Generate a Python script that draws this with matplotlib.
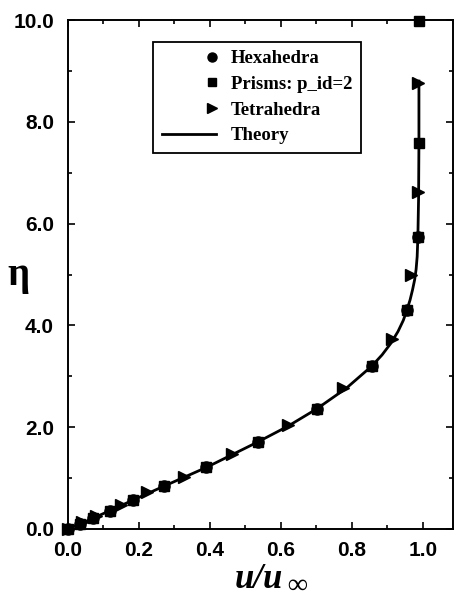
import matplotlib
matplotlib.use("Agg")
import matplotlib.pyplot as plt
from matplotlib.lines import Line2D
from matplotlib.legend_handler import HandlerLine2D
from matplotlib.ticker import MultipleLocator, FormatStrFormatter

# ---- data ----
hex_u   = [0.0, 0.034, 0.070, 0.118, 0.184, 0.270, 0.390, 0.535, 0.701, 0.856, 0.955, 0.985]
hex_eta = [0.0, 0.10, 0.21, 0.36, 0.57, 0.84, 1.21, 1.71, 2.36, 3.20, 4.30, 5.73]

prism_u   = [0.0, 0.034, 0.070, 0.118, 0.184, 0.270, 0.390, 0.535, 0.701, 0.856, 0.955, 0.985, 0.988, 0.989]
prism_eta = [0.0, 0.10, 0.21, 0.36, 0.57, 0.84, 1.21, 1.71, 2.36, 3.20, 4.30, 5.73, 7.58, 9.98]

tet_u   = [0.0, 0.040, 0.080, 0.150, 0.224, 0.326, 0.462, 0.620, 0.775, 0.913, 0.968, 0.985, 0.986]
tet_eta = [0.0, 0.13, 0.26, 0.47, 0.72, 1.02, 1.47, 2.04, 2.77, 3.73, 4.99, 6.62, 8.76]

theory_u   = [0.0, 0.034, 0.070, 0.118, 0.184, 0.270, 0.390, 0.535, 0.620, 0.701, 0.785,
              0.856, 0.885, 0.910, 0.930, 0.945, 0.955, 0.964, 0.971, 0.977, 0.981,
              0.984, 0.986, 0.988, 0.989, 0.989]
theory_eta = [0.0, 0.10, 0.21, 0.36, 0.57, 0.84, 1.21, 1.71, 2.02, 2.36, 2.77,
              3.20, 3.42, 3.65, 3.88, 4.10, 4.30, 4.50, 4.70, 4.90, 5.10,
              5.35, 5.73, 6.50, 7.60, 8.80]

labels = ["Hexahedra", "Prisms: p_id=2", "Tetrahedra", "Theory"]
xticks = [0.0, 0.2, 0.4, 0.6, 0.8, 1.0]
yticks = [0.0, 2.0, 4.0, 6.0, 8.0, 10.0]


class RightMarker(HandlerLine2D):
    def create_artists(self, legend, orig_handle, xdescent, ydescent,
                       width, height, fontsize, trans):
        x = -xdescent + width - 0.2 * fontsize
        y = (height - ydescent) / 2
        line = Line2D([x], [y])
        self.update_prop(line, orig_handle, legend)
        line.set_transform(trans)
        return [line]


fig = plt.figure(figsize=(4.56, 6.01), dpi=100)
ax = fig.add_axes([68/456, 72/601, (453-68)/456, (529-20)/601])

ax.plot(theory_u, theory_eta, color="black", lw=2.0, zorder=2)
ax.plot(prism_u, prism_eta, ls="none", marker="s", ms=7.5, color="black", clip_on=False, zorder=3)
ax.plot(hex_u, hex_eta, ls="none", marker="o", ms=8, color="black", clip_on=False, zorder=4)
ax.plot(tet_u, tet_eta, ls="none", marker=">", ms=8, color="black", clip_on=False, zorder=4)

ax.set_xlim(0, 1.085)
ax.set_ylim(0, 10.0)
ax.set_xticks(xticks)
ax.set_yticks(yticks)
ax.xaxis.set_minor_locator(MultipleLocator(0.1))
ax.yaxis.set_minor_locator(MultipleLocator(1.0))
ax.xaxis.set_major_formatter(FormatStrFormatter("%.1f"))
ax.yaxis.set_major_formatter(FormatStrFormatter("%.1f"))
ax.tick_params(which="both", direction="in", top=True, right=True, width=1.2)
ax.tick_params(which="major", length=5)
ax.tick_params(which="minor", length=3)
ax.tick_params(axis="x", which="major", pad=9)
ax.tick_params(axis="y", which="major", pad=10)
for lab in ax.get_xticklabels() + ax.get_yticklabels():
    lab.set_fontfamily("Liberation Sans")
    lab.set_fontsize(15)
    lab.set_fontweight("bold")
for sp in ax.spines.values():
    sp.set_linewidth(1.4)

# legend
h_hex = Line2D([], [], ls="none", marker="o", ms=6.5, color="black")
h_pri = Line2D([], [], ls="none", marker="s", ms=6, color="black")
h_tet = Line2D([], [], ls="none", marker=">", ms=6.5, color="black")
h_th = Line2D([], [], color="black", lw=2.0)
mk = RightMarker()
leg = ax.legend([h_hex, h_pri, h_tet, h_th], labels,
                handler_map={h_hex: mk, h_pri: mk, h_tet: mk},
                loc="upper left", bbox_to_anchor=(0.221, 0.957), borderaxespad=0,
                prop={"family": "Liberation Serif", "weight": "bold", "size": 13.5},
                handlelength=2.9, handletextpad=0.8, borderpad=0.45, labelspacing=0.45,
                fancybox=False, framealpha=1, edgecolor="black")
leg.get_frame().set_linewidth(1.3)

# axis labels
fig.text(18/456, (601-275)/601, "η", fontsize=28, fontfamily="Liberation Serif",
         fontweight="bold", ha="center", va="center")
fig.text(259/456, (601-588)/601, "u/u", fontsize=25, fontfamily="Liberation Serif",
         fontweight="bold", fontstyle="italic", ha="center", va="baseline")
fig.text(297/456, 2/601, "∞", fontsize=20, fontfamily="Liberation Serif",
         fontweight="bold", ha="center", va="bottom")

fig.savefig("out.png", dpi=100)
